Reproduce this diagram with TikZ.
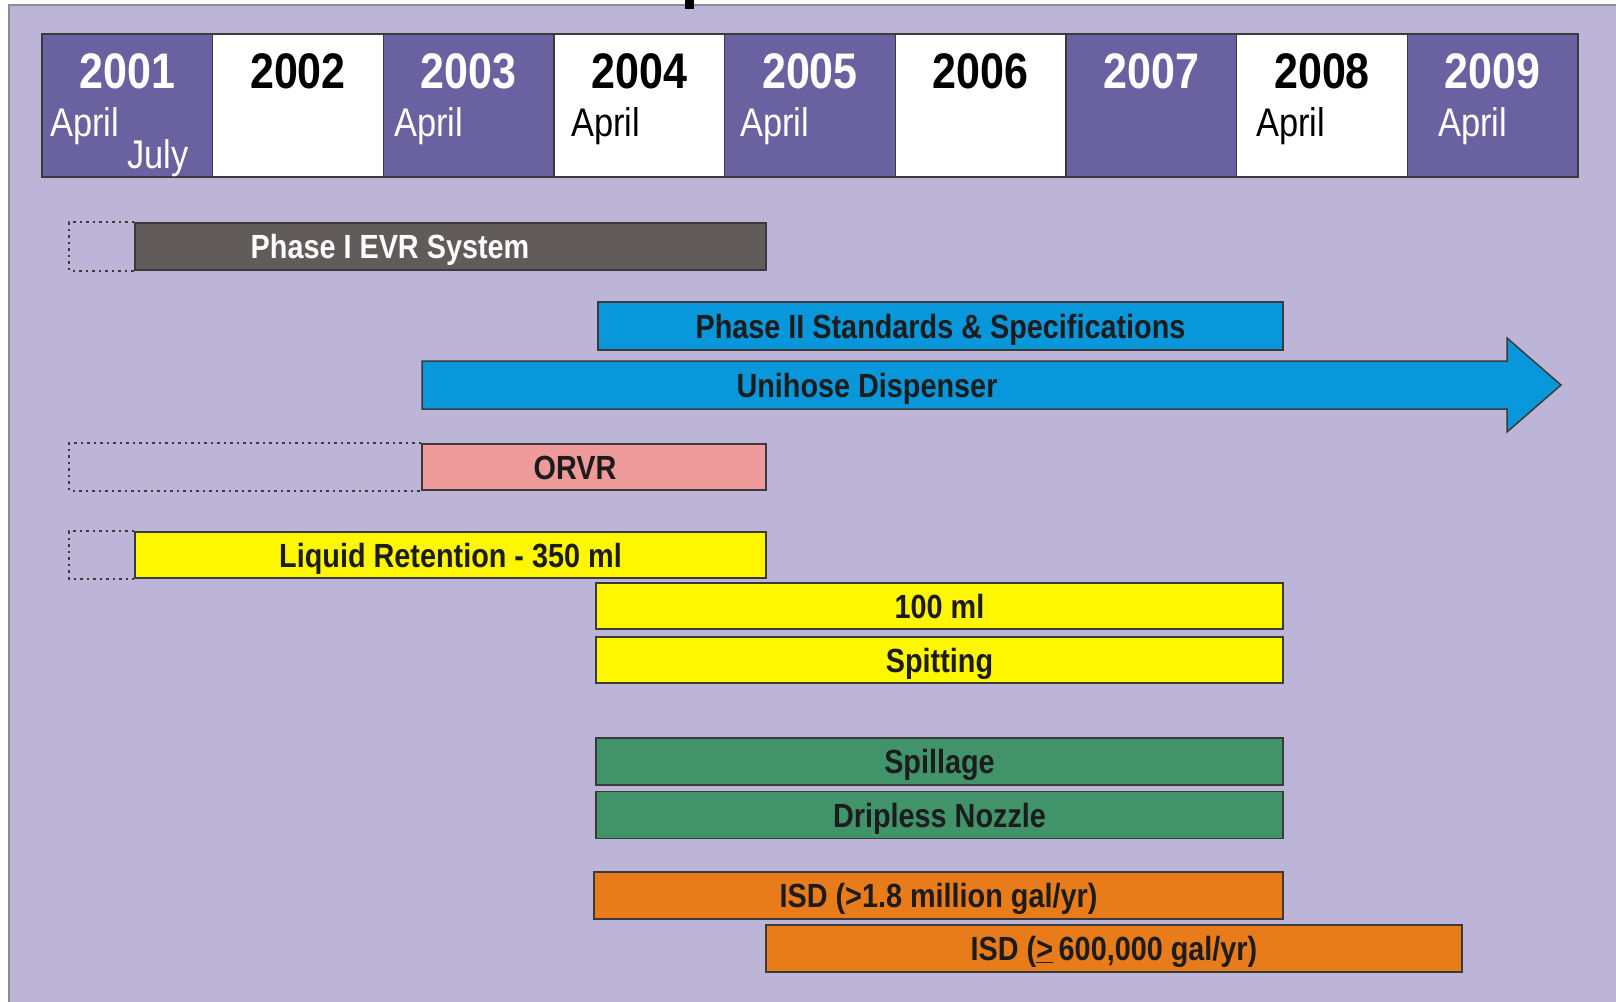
\documentclass[tikz,border=0pt]{standalone}
\usepackage{fontspec}
\setmainfont{Liberation Sans}[FakeStretch=0.86]
\newcommand\yrfont{\fontsize{50}{56}\selectfont\bfseries}
\newcommand\monfont{\fontsize{40}{46}\selectfont}
\newcommand\barfont{\fontsize{33.5}{38}\selectfont\bfseries}
\definecolor{panel}{HTML}{BDB5D7}
\definecolor{panelline}{HTML}{8E8A9E}
\definecolor{cellpurple}{HTML}{6A62A0}
\definecolor{evrgray}{HTML}{625B5B}
\definecolor{barblue}{HTML}{0897DA}
\definecolor{barpink}{HTML}{EE9A9B}
\definecolor{baryellow}{HTML}{FFF700}
\definecolor{bargreen}{HTML}{41936A}
\definecolor{barorange}{HTML}{E87B1A}
\definecolor{barline}{HTML}{3A3A3A}
\definecolor{bartxt}{HTML}{1C1C1C}
\begin{document}
\begin{tikzpicture}[x=1pt,y=-1pt,
  yearcell/.style={draw=barline, line width=1.2pt, minimum width=170.67pt, minimum height=143pt, inner sep=0pt},
  yr/.style={font=\yrfont, anchor=base, inner sep=0pt},
  mon/.style={font=\monfont, anchor=base west, inner sep=0pt},
  bar/.style={draw=barline, line width=1.5pt, inner sep=0pt, font=\barfont, text=bartxt, text height=24pt, text depth=0pt},
  bartext/.style={font=\barfont, text=bartxt, inner sep=0pt, text height=24pt, text depth=0pt},
  dotbox/.style={draw=barline, line width=2pt, dash pattern=on 2.5pt off 4pt}
]
\useasboundingbox (0,0) rectangle (1616,1001);
\fill[white] (0,0) rectangle (1616,1001);
\draw[fill=panel, draw=panelline, line width=1.2pt] (9,5) rectangle (1630,1015);
\fill[black] (685,0) rectangle (694,9);

% header cells
\node[yearcell, fill=cellpurple] (c2001) at (127.33,105.5) {};
\node[yearcell, fill=white]      (c2002) at (298.00,105.5) {};
\node[yearcell, fill=cellpurple] (c2003) at (468.67,105.5) {};
\node[yearcell, fill=white]      (c2004) at (639.33,105.5) {};
\node[yearcell, fill=cellpurple] (c2005) at (810.00,105.5) {};
\node[yearcell, fill=white]      (c2006) at (980.67,105.5) {};
\node[yearcell, fill=cellpurple] (c2007) at (1151.33,105.5) {};
\node[yearcell, fill=white]      (c2008) at (1322.00,105.5) {};
\node[yearcell, fill=cellpurple] (c2009) at (1492.67,105.5) {};
\draw[barline, line width=1.5pt] (c2001.north west) rectangle (c2009.south east);

\node[yr, text=white] (y2001) at (127.33,88) {2001};
\node[yr, text=black] (y2002) at (298.00,88) {2002};
\node[yr, text=white] (y2003) at (468.67,88) {2003};
\node[yr, text=black] (y2004) at (639.33,88) {2004};
\node[yr, text=white] (y2005) at (810.00,88) {2005};
\node[yr, text=black] (y2006) at (980.67,88) {2006};
\node[yr, text=white] (y2007) at (1151.33,88) {2007};
\node[yr, text=black] (y2008) at (1322.00,88) {2008};
\node[yr, text=white] (y2009) at (1492.67,88) {2009};

\node[mon, text=white] (m2001) at (50,136) {April};
\node[mon, text=white] (j2001) at (127,168) {July};
\node[mon, text=white] (m2003) at (394,136) {April};
\node[mon, text=black] (m2004) at (571,136) {April};
\node[mon, text=white] (m2005) at (740,136) {April};
\node[mon, text=black] (m2008) at (1256,136) {April};
\node[mon, text=white] (m2009) at (1438,136) {April};

% Phase I
\node[bar, fill=evrgray, minimum width=631pt, minimum height=47pt] (evr) at (450.5,246.5) {};
\node[bartext, text=white] (evrT) at (390,246.5) {Phase I EVR System};
\draw[dotbox] (evr.north west) -- ++(-65,0) |- (evr.south west);

% Phase II
\node[bar, fill=barblue, minimum width=685pt, minimum height=48pt] (ph2) at (940.5,326) {Phase II Standards \& Specifications};

% Unihose arrow
\filldraw[fill=barblue, draw=barline, line width=1.5pt]
  (422,361) -- (1507,361) -- (1507,338) -- (1561,385) -- (1507,432) -- (1507,409) -- (422,409) -- cycle;
\node[bartext] (uni) at (867,385) {Unihose Dispenser};

% ORVR
\node[bar, fill=barpink, minimum width=344pt, minimum height=46pt] (orvr) at (594,467) {};
\node[bartext] (orvrT) at (575,467) {ORVR};
\draw[dotbox] (orvr.north west) -- ++(-352,0) |- (orvr.south west);

% Liquid retention
\node[bar, fill=baryellow, minimum width=631pt, minimum height=46pt] (liq) at (450.5,555) {Liquid Retention - 350 ml};
\draw[dotbox] (liq.north west) -- ++(-65,0) |- (liq.south west);

\node[bar, fill=baryellow, minimum width=687pt, minimum height=46pt] (ml100) at (939.5,606) {100 ml};
\node[bar, fill=baryellow, minimum width=687pt, minimum height=46pt] (spit) at (939.5,660) {Spitting};

\node[bar, fill=bargreen, minimum width=687pt, minimum height=47pt] (spill) at (939.5,761.5) {Spillage};
\node[bar, fill=bargreen, minimum width=687pt, minimum height=47pt] (drip) at (939.5,815) {Dripless Nozzle};

\node[bar, fill=barorange, minimum width=689pt, minimum height=47pt] (isd1) at (938.5,895.5) {ISD (>1.8 million gal/yr)};
\node[bar, fill=barorange, minimum width=696pt, minimum height=47pt] (isd2) at (1114,948.5) {ISD (\underline{>}\,600,000 gal/yr)};
\end{tikzpicture}
\end{document}
